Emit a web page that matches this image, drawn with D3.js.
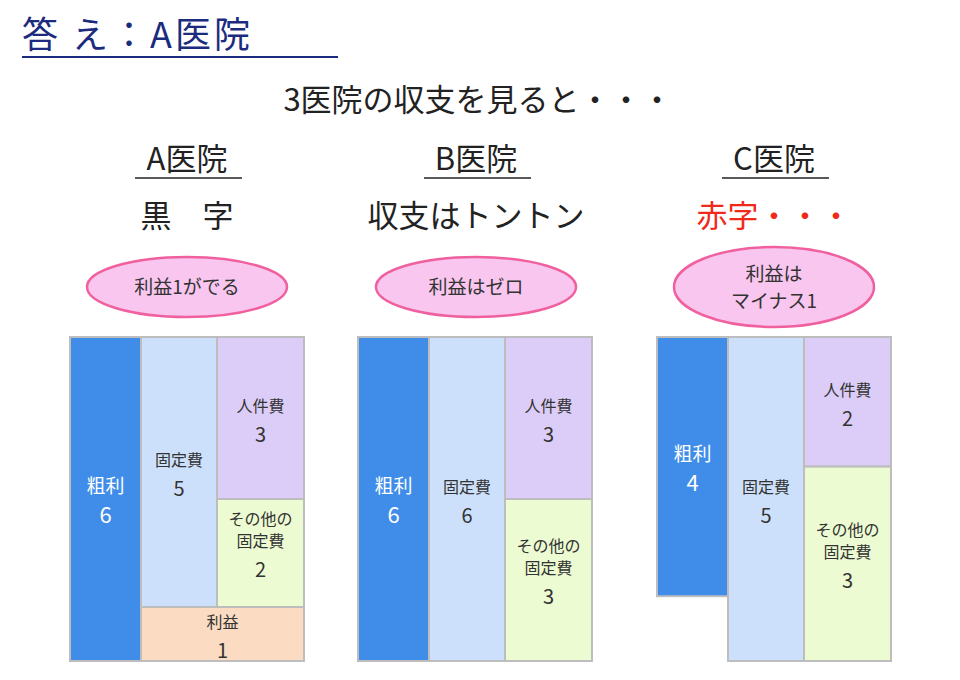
<!DOCTYPE html>
<html><head><meta charset="utf-8">
<script src="https://cdn.jsdelivr.net/npm/d3@7"></script>
<style>body{margin:0;background:#fff}text{font-family:"Noto Sans CJK JP","Noto Sans",sans-serif}</style>
</head><body>
<svg id="chart" width="960" height="680"></svg>
<script>
// data
let hospitals = ['A医院', 'B医院', 'C医院']
let verdicts = ['黒　字', '収支はトントン', '赤字・・・']
let bubbles = [['利益1がでる'], ['利益はゼロ'], ['利益は', 'マイナス1']]
let segments = [
    [{label: ['粗利'], v: 6, col: 0, span: 1}, {label: ['固定費'], v: 5, col: 1, span: 1},
     {label: ['人件費'], v: 3, col: 2, span: 1}, {label: ['その他の', '固定費'], v: 2, col: 2, span: 1},
     {label: ['利益'], v: 1, col: 1, span: 2}],
    [{label: ['粗利'], v: 6, col: 0, span: 1}, {label: ['固定費'], v: 6, col: 1, span: 1},
     {label: ['人件費'], v: 3, col: 2, span: 1}, {label: ['その他の', '固定費'], v: 3, col: 2, span: 1}],
    [{label: ['粗利'], v: 4, col: 0, span: 1}, {label: ['固定費'], v: 5, col: 1, span: 1},
     {label: ['人件費'], v: 2, col: 2, span: 1}, {label: ['その他の', '固定費'], v: 3, col: 2, span: 1}]
]
let colors = {'粗利': '#3f8de8', '固定費': '#cce0fb', '人件費': '#dccdf8', 'その他の': '#ecfbd2', '利益': '#fbdcc2'}

let svg = d3.select('#chart')
let navy = '#1b2b7e'

svg.append('text').attr('x', 22).attr('y', 48).attr('font-size', 36).attr('fill', navy)
    .attr('letter-spacing', 3).text('答 え：A医院')
svg.append('line').attr('x1', 22).attr('x2', 338).attr('y1', 57).attr('y2', 57)
    .attr('stroke', navy).attr('stroke-width', 2)
svg.append('text').attr('x', 478).attr('y', 111).attr('font-size', 31).attr('fill', '#222')
    .attr('text-anchor', 'middle').text('3医院の収支を見ると・・・')

let lefts = [70, 358, 657]
let colX = [0, 71, 147, 234]
let centers = [187, 476, 774]

hospitals.forEach(function (h, i) {
    let cx = centers[i]
    svg.append('text').attr('x', cx).attr('y', 170).attr('font-size', 31).attr('fill', '#222')
        .attr('text-anchor', 'middle').text(h)
    svg.append('line').attr('x1', cx - 52).attr('x2', cx + 55).attr('y1', 178).attr('y2', 178)
        .attr('stroke', '#222').attr('stroke-width', 1.5)
    svg.append('text').attr('x', cx).attr('y', 227).attr('font-size', 31)
        .attr('fill', i == 2 ? '#f02a1a' : '#222').attr('text-anchor', 'middle').text(verdicts[i])

    let ry = bubbles[i].length > 1 ? 40 : 30
    svg.append('ellipse').attr('cx', cx).attr('cy', 287).attr('rx', 100).attr('ry', ry)
        .attr('fill', '#f8c6ef').attr('stroke', '#f0609e').attr('stroke-width', 2.5)
    bubbles[i].forEach(function (t, k) {
        svg.append('text').attr('x', cx).attr('y', 287 + 7 + (k - (bubbles[i].length - 1) / 2) * 27)
            .attr('font-size', 19).attr('fill', '#333').attr('text-anchor', 'middle').text(t)
    })

    // each panel is drawn to its own tallest column
    let totals = [0, 0, 0]
    segments[i].forEach(function (d) {
        for (let c = d.col; c < d.col + d.span; c++) totals[c] += d.v
    })
    let y = d3.scaleLinear().domain([0, d3.max(totals)]).range([337, 661])

    let stack = [0, 0, 0]
    let g = svg.append('g').attr('transform', 'translate(' + lefts[i] + ',0)')
    segments[i].forEach(function (d) {
        let y0 = stack[d.col]
        for (let c = d.col; c < d.col + d.span; c++) stack[c] = y0 + d.v
        let x0 = colX[d.col], x1 = colX[d.col + d.span]
        let top = y(y0), bot = y(y0 + d.v)
        let dark = d.label[0] == '粗利'
        g.append('rect').attr('x', x0).attr('y', top).attr('width', x1 - x0).attr('height', bot - top)
            .attr('fill', colors[d.label[0]]).attr('stroke', '#bdbdbd').attr('stroke-width', 2)
        let mx = (x0 + x1) / 2, my = (top + bot) / 2
        let n = d.label.length
        let ls = dark ? 19 : 16
        d.label.forEach(function (t, k) {
            g.append('text').attr('x', mx).attr('y', my - 6 - (n - 1 - k) * 22)
                .attr('font-size', ls).attr('fill', dark ? '#fff' : '#333')
                .attr('text-anchor', 'middle').text(t)
        })
        g.append('text').attr('x', mx).attr('y', my + 24).attr('font-size', dark ? 22 : 20)
            .attr('fill', dark ? '#fff' : '#333').attr('text-anchor', 'middle').text(d.v)
    })
})
</script>
</body></html>
